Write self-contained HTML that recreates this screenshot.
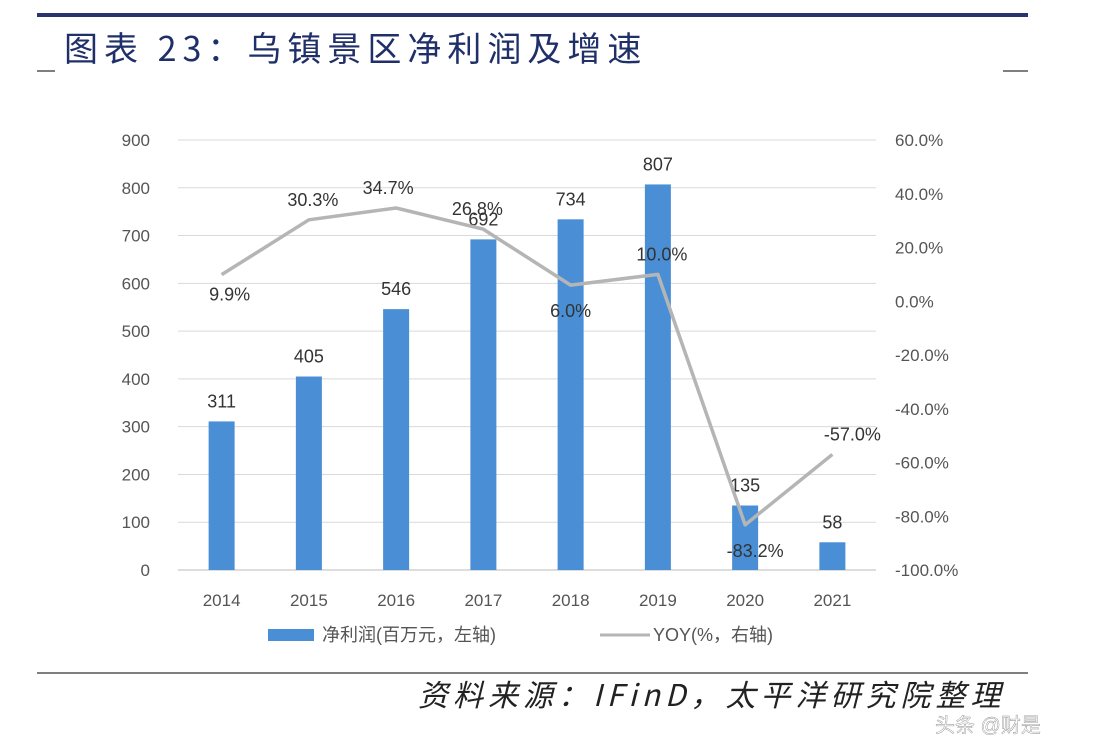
<!DOCTYPE html>
<html><head><meta charset="utf-8">
<style>
html,body{margin:0;padding:0;background:#fff;}
body{width:1106px;height:750px;position:relative;overflow:hidden;font-family:"Liberation Sans","Noto Sans CJK SC",sans-serif;}
</style></head>
<body>
<svg id="chart" width="1106" height="750" viewBox="0 0 1106 750" xmlns="http://www.w3.org/2000/svg">
  <rect x="37" y="13" width="991" height="4" fill="#2a3570"/>
  <text x="64" y="61" font-size="34" fill="#1f2f6a" font-family="'Noto Sans CJK SC',sans-serif" letter-spacing="6">图表 23：乌镇景区净利润及增速</text>
  <line x1="37" y1="71" x2="55" y2="71" stroke="#333" stroke-width="1.2"/>
  <line x1="1003" y1="71" x2="1028" y2="71" stroke="#333" stroke-width="1.2"/>
  <g id="grid"></g>
  <g id="bars"></g>
  <g id="line"></g>
  <g id="axes"></g>
  <g>
    <rect x="268" y="629" width="46" height="12" fill="#4a8fd6"/>
    <text x="322" y="641" font-size="18" fill="#555">净利润(百万元，左轴)</text>
    <line x1="600" y1="635" x2="650" y2="635" stroke="#b5b5b5" stroke-width="3"/>
    <text x="653" y="641" font-size="18" fill="#555">YOY(%，右轴)</text>
  </g>
  <line x1="37" y1="673" x2="1028" y2="673" stroke="#333" stroke-width="1.2"/>
  <text x="418" y="706" font-size="30" font-style="italic" fill="#222" font-family="'Noto Sans CJK SC',sans-serif" letter-spacing="5">资料来源：IFinD，太平洋研究院整理</text>
  <text x="935" y="732" font-size="20" fill="#fff" stroke="#888" stroke-width="0.4">头条 @财是</text>
</svg>
<script>
const categories = ["2014","2015","2016","2017","2018","2019","2020","2021"];
const profit = [311,405,546,692,734,807,135,58];
const yoy = [9.9,30.3,34.7,26.8,6.0,10.0,-83.2,-57.0];
const yoyLabels = ["9.9%","30.3%","34.7%","26.8%","6.0%","10.0%","-83.2%","-57.0%"];
const leftTicks = [0,100,200,300,400,500,600,700,800,900];
const rightTicks = [-100,-80,-60,-40,-20,0,20,40,60];
const rightTickLabels = ["-100.0%","-80.0%","-60.0%","-40.0%","-20.0%","0.0%","20.0%","40.0%","60.0%"];

const NS="http://www.w3.org/2000/svg";
const plotL=178, plotR=876, plotT=140, plotB=570;
const yL = v => plotB - (v/900)*(plotB-plotT);
const yR = v => plotB - ((v+100)/160)*(plotB-plotT);
const step=(plotR-plotL)/categories.length;
const xC = i => plotL + step*(i+0.5);
function mk(tag, attrs, parent, text){const e=document.createElementNS(NS,tag);for(const k in attrs)e.setAttribute(k,attrs[k]);if(text!==undefined)e.textContent=text;parent.appendChild(e);return e;}
const grid=document.getElementById('grid'), bars=document.getElementById('bars'), line=document.getElementById('line'), axes=document.getElementById('axes');
leftTicks.forEach(t=>{
  const g=mk('line',{x1:plotL,x2:plotR,y1:yL(t),y2:yL(t),stroke:t===0?'#bbb':'#d9d9d9','stroke-width':1},grid);
  
  
  const l=mk('text',{x:150,y:yL(t)+6,'font-size':17,fill:'#555','text-anchor':'end'},axes,String(t));
  
  
});
rightTicks.forEach((t,i)=>{
  const l=mk('text',{x:895,y:yR(t)+6,'font-size':17,fill:'#555'},axes,rightTickLabels[i]);
  
  
});
categories.forEach((c,i)=>{
  const l=mk('text',{x:xC(i),y:606,'font-size':17,fill:'#555','text-anchor':'middle'},axes,c);
  
  
  const b=mk('rect',{x:xC(i)-13,y:yL(profit[i]),width:26,height:plotB-yL(profit[i]),fill:'#4a8fd6'},bars);
  
  
  const bl=mk('text',{x:xC(i),y:yL(profit[i])-14,'font-size':18,fill:'#333','text-anchor':'middle'},bars,String(profit[i]));
  
  
});
const pts=yoy.map((v,i)=>xC(i)+','+yR(v)).join(' ');
const pl=mk('polyline',{points:pts,fill:'none',stroke:'#b5b5b5','stroke-width':3.5,'stroke-linejoin':'round'},line);


const offs=[[8,26],[4,-14],[-8,-14],[-6,-14],[0,32],[4,-14],[10,32],[20,-14]];
yoy.forEach((v,i)=>{
  const t=mk('text',{x:xC(i)+offs[i][0],y:yR(v)+offs[i][1],'font-size':18,fill:'#333','text-anchor':'middle'},line,yoyLabels[i]);
  
  
});
</script>
</body></html>
